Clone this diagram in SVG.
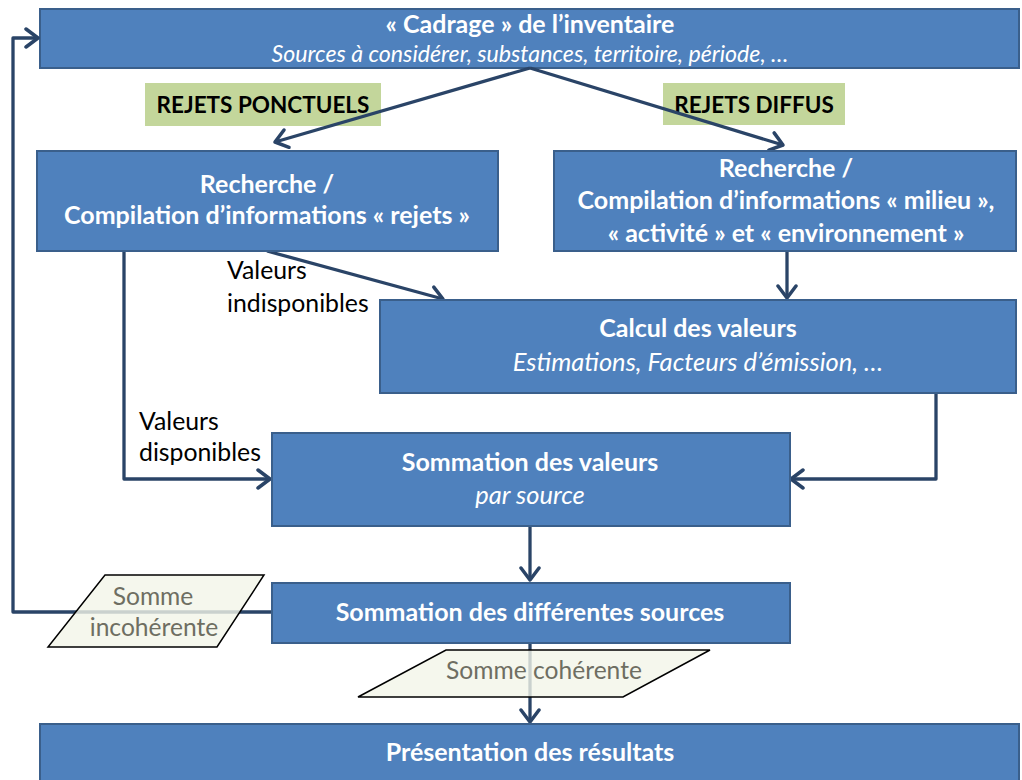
<svg xmlns="http://www.w3.org/2000/svg" width="1022" height="780" viewBox="0 0 1022 780">
<style>
.box{fill:#4f81bd;stroke:#3a5f8b;stroke-width:2}
.tb{font-family:Lato,"Liberation Sans",sans-serif;font-weight:bold;fill:#ffffff;text-anchor:middle;font-size:25px}
.ti{font-family:Lato,"Liberation Sans",sans-serif;font-style:italic;fill:#ffffff;text-anchor:middle;font-size:25.5px}
.sub{font-size:23.2px}
.tag{fill:#c3d69b}
.tagt{font-family:Lato,"Liberation Sans",sans-serif;font-weight:bold;fill:#000000;font-size:22.5px;text-anchor:middle}
.lbl{font-family:Lato,"Liberation Sans",sans-serif;fill:#000000;font-size:24.8px}
.con{fill:none;stroke:#2a4467;stroke-width:3.3;stroke-linejoin:round}
.par{fill:#f2f5e9;fill-opacity:0.8;stroke:#000000;stroke-width:1.5}
.pt{font-family:Lato,"Liberation Sans",sans-serif;fill:#6e6e62;font-size:24.6px;text-anchor:middle}
</style>
<defs>
<marker id="ah" markerUnits="userSpaceOnUse" viewBox="-16 -11 18 22" markerWidth="18" markerHeight="22" refX="0" refY="0" orient="auto">
<path d="M-12,-9 L0,0 L-12,9" fill="none" stroke="#2a4467" stroke-width="3.5" stroke-linecap="round" stroke-linejoin="round"/>
</marker>
</defs>

<g id="n-cadrage">
<rect class="box" x="40" y="9" width="979" height="59"/>
<text class="tb" x="530" y="33">« Cadrage » de l’inventaire</text>
<text class="ti sub" x="530" y="62">Sources à considérer, substances, territoire, période, …</text>
</g>

<g id="n-tag-ponctuels">
<rect class="tag" x="145" y="83" width="236" height="43"/>
<text class="tagt" x="263" y="113">REJETS PONCTUELS</text>
</g>
<g id="n-tag-diffus">
<rect class="tag" x="663" y="83" width="182" height="42"/>
<text class="tagt" x="754" y="113">REJETS DIFFUS</text>
</g>

<g id="connectors">
<line class="con" x1="530" y1="68" x2="275" y2="142" marker-end="url(#ah)"/>
<line class="con" x1="530" y1="68" x2="783" y2="145" marker-end="url(#ah)"/>
<line class="con" x1="267" y1="251" x2="443" y2="299" marker-end="url(#ah)"/>
<line class="con" x1="787" y1="251" x2="787" y2="298" marker-end="url(#ah)"/>
<polyline class="con" points="124,251 124,479 270,479" marker-end="url(#ah)"/>
<polyline class="con" points="936,393 936,479 791,479" marker-end="url(#ah)"/>
<line class="con" x1="530" y1="526" x2="530" y2="580" marker-end="url(#ah)"/>
<polyline class="con" points="272,612 13,612 13,38 38,38" marker-end="url(#ah)"/>
<line class="con" x1="530" y1="643" x2="530" y2="722" marker-end="url(#ah)"/>
</g>

<g id="n-rejets">
<rect class="box" x="37" y="151" width="461" height="100"/>
<text class="tb" x="267" y="193">Recherche /</text>
<text class="tb" x="267" y="224">Compilation d’informations « rejets »</text>
</g>

<g id="n-milieu">
<rect class="box" x="554" y="151" width="462" height="100"/>
<text class="tb" x="786" y="177">Recherche /</text>
<text class="tb" x="786" y="209">Compilation d’informations « milieu »,</text>
<text class="tb" x="786" y="242">« activité » et « environnement »</text>
</g>

<g id="n-calcul">
<rect class="box" x="380" y="300" width="636" height="93"/>
<text class="tb" x="698" y="337">Calcul des valeurs</text>
<text class="ti" x="698" y="371">Estimations, Facteurs d’émission, …</text>
</g>

<g id="l-indispo">
<text class="lbl" x="227" y="279">Valeurs</text>
<text class="lbl" x="227" y="312">indisponibles</text>
</g>
<g id="l-dispo">
<text class="lbl" x="139" y="430">Valeurs</text>
<text class="lbl" x="139" y="461">disponibles</text>
</g>

<g id="n-sommation">
<rect class="box" x="272" y="433" width="518" height="93"/>
<text class="tb" x="530" y="471">Sommation des valeurs</text>
<text class="ti" x="530" y="504">par source</text>
</g>

<g id="n-sommation-sources">
<rect class="box" x="272" y="583" width="518" height="60"/>
<text class="tb" x="530" y="621">Sommation des différentes sources</text>
</g>

<g id="n-incoherente">
<polygon class="par" points="105,575 264,575 217,647 48,647"/>
<text class="pt" x="153" y="605">Somme</text>
<text class="pt" x="154" y="636">incohérente</text>
</g>

<g id="n-coherente">
<polygon class="par" points="446,650 710,650 623,697 358,697"/>
<text class="pt" x="544" y="679">Somme  cohérente</text>
</g>

<g id="n-presentation">
<rect class="box" x="40" y="724" width="979" height="70"/>
<text class="tb" x="530" y="761">Présentation des résultats</text>
</g>
</svg>
